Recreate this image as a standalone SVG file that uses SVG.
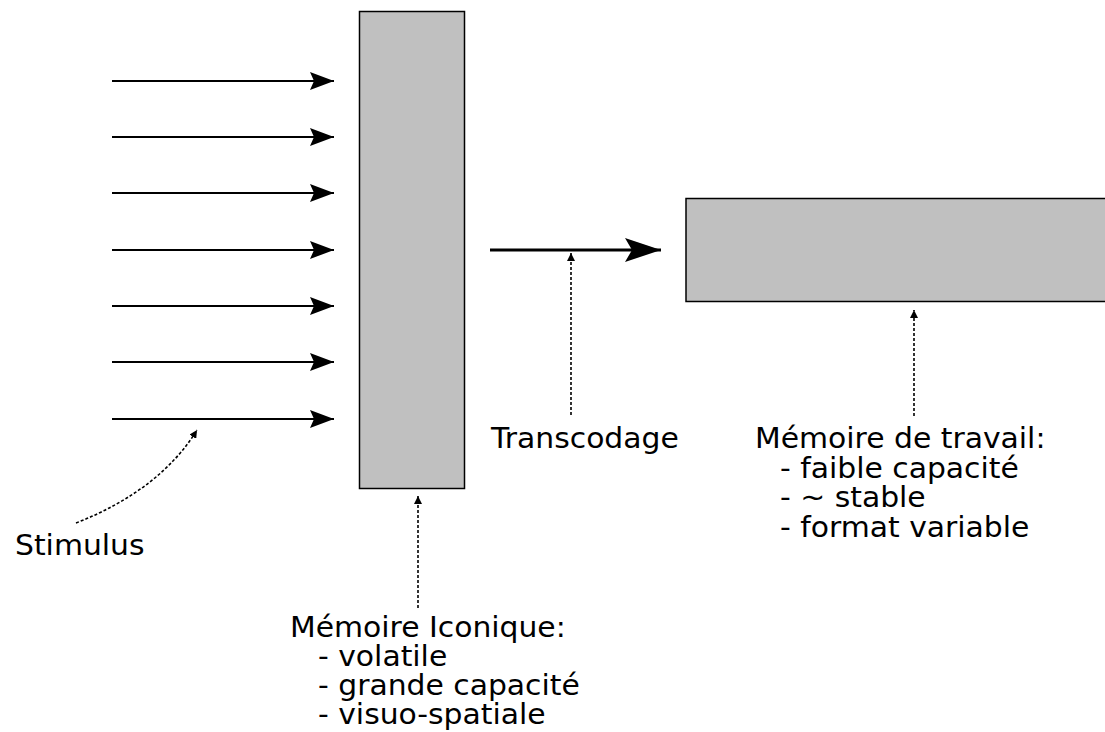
<svg xmlns="http://www.w3.org/2000/svg" width="1105" height="732" viewBox="0 0 1105 732">
  <style>
    .box { fill: #c0c0c0; stroke: #000; stroke-width: 1.5; }
    .flow { stroke: #000; stroke-width: 2; fill: none; }
    .big { stroke: #000; stroke-width: 3; fill: none; }
    .note { stroke: #000; stroke-width: 1.6; stroke-dasharray: 3 2; fill: none; }
    text { font-family: "DejaVu Sans", sans-serif; font-size: 28px; fill: #000; }
  </style>
  <defs>
    <marker id="head" viewBox="0 0 24 18" refX="24" refY="9" markerUnits="userSpaceOnUse" markerWidth="24" markerHeight="18" orient="auto">
      <path d="M0,0 L24,9 L0,18 L4,9 Z" fill="#000"/>
    </marker>
    <marker id="bighead" viewBox="0 0 36 24" refX="36" refY="12" markerUnits="userSpaceOnUse" markerWidth="36" markerHeight="24" orient="auto">
      <path d="M0,0 L36,12 L0,24 L7,12 Z" fill="#000"/>
    </marker>
    <marker id="small" viewBox="0 0 8 8" refX="8" refY="4" markerUnits="userSpaceOnUse" markerWidth="8" markerHeight="8" orient="auto">
      <path d="M0,0 L8,4 L0,8 Z" fill="#000"/>
    </marker>
  </defs>

  <g id="iconic-memory">
    <rect class="box" x="359.5" y="11.5" width="105" height="477"/>
  </g>
  <g id="working-memory">
    <rect class="box" x="686" y="198.5" width="430" height="103"/>
  </g>

  <g id="connectors">
    <line class="flow" x1="112" y1="81" x2="334" y2="81" marker-end="url(#head)"/>
    <line class="flow" x1="112" y1="137" x2="334" y2="137" marker-end="url(#head)"/>
    <line class="flow" x1="112" y1="193" x2="334" y2="193" marker-end="url(#head)"/>
    <line class="flow" x1="112" y1="250" x2="334" y2="250" marker-end="url(#head)"/>
    <line class="flow" x1="112" y1="306" x2="334" y2="306" marker-end="url(#head)"/>
    <line class="flow" x1="112" y1="362" x2="334" y2="362" marker-end="url(#head)"/>
    <line class="flow" x1="112" y1="419" x2="334" y2="419" marker-end="url(#head)"/>
    <line class="big" x1="490" y1="250" x2="661" y2="250" marker-end="url(#bighead)"/>
    <line class="note" x1="571" y1="415" x2="571" y2="253" marker-end="url(#small)"/>
    <line class="note" x1="914" y1="416" x2="914" y2="310" marker-end="url(#small)"/>
    <line class="note" x1="418" y1="608" x2="418" y2="496" marker-end="url(#small)"/>
    <path class="note" d="M76,523 Q160,490 197,430" marker-end="url(#small)"/>
  </g>

  <!-- labels are drawn slightly widened -->
  <g id="labels">
    <text transform="translate(15 555) scale(1.065 1)">Stimulus</text>
    <text transform="translate(491 448) scale(1.065 1)">Transcodage</text>
    <text transform="translate(755 448) scale(1.065 1)">Mémoire de travail:</text>
    <text transform="translate(780 478) scale(1.065 1)">- faible capacité</text>
    <text transform="translate(780 507) scale(1.065 1)">- ~ stable</text>
    <text transform="translate(780 537) scale(1.065 1)">- format variable</text>
    <text transform="translate(290 637) scale(1.065 1)">Mémoire Iconique:</text>
    <text transform="translate(318 666) scale(1.065 1)">- volatile</text>
    <text transform="translate(318 695) scale(1.065 1)">- grande capacité</text>
    <text transform="translate(318 724) scale(1.065 1)">- visuo-spatiale</text>
  </g>
</svg>
